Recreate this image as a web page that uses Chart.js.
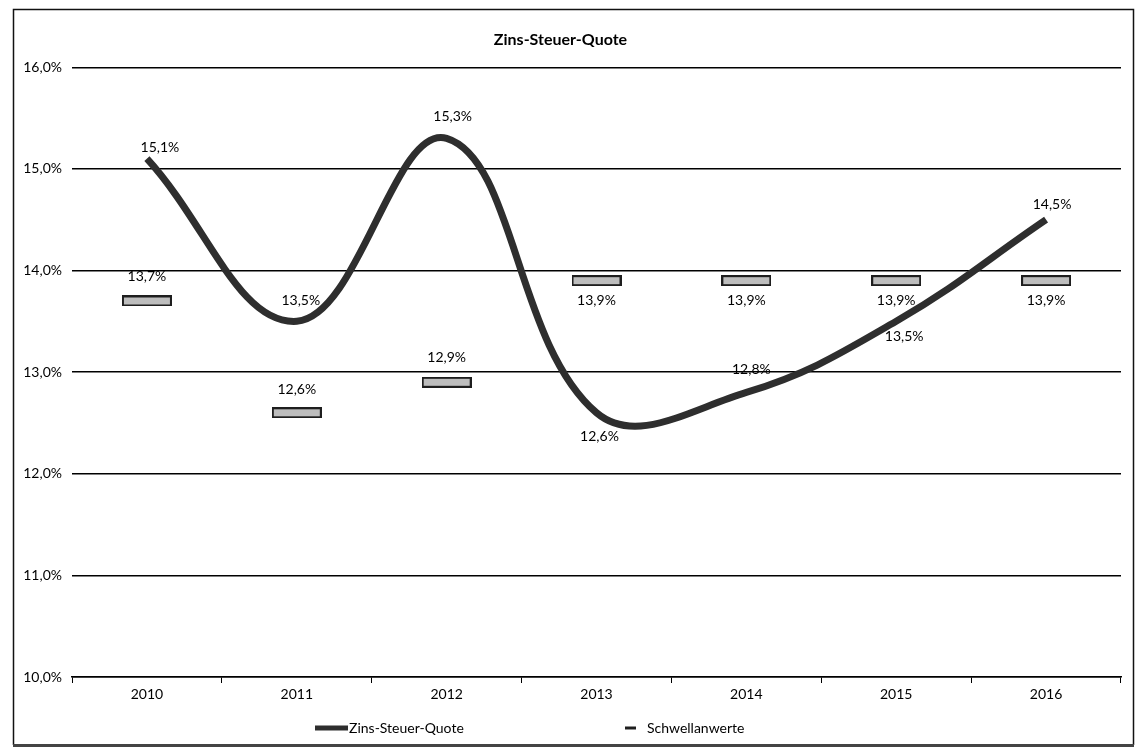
<!DOCTYPE html>
<html>
<head>
<meta charset="utf-8">
<title>Zins-Steuer-Quote</title>
<script src="https://cdn.jsdelivr.net/npm/chart.js@4.4.1/dist/chart.umd.min.js"></script>
<style>
  html, body { margin: 0; padding: 0; background: #fff; }
  #wrap { position: relative; width: 1137px; height: 751px; }
</style>
</head>
<body>
<div id="wrap"><canvas id="chart" width="1137" height="751"></canvas></div>
<script>
// Jahre (Kategorien)
const years = ['2010', '2011', '2012', '2013', '2014', '2015', '2016'];
// Zins-Steuer-Quote in %
const zinsSteuerQuote = [15.1, 13.5, 15.3, 12.6, 12.8, 13.5, 14.5];
// Schwellenwerte in %
const schwellenwerte = [13.7, 12.6, 12.9, 13.9, 13.9, 13.9, 13.9];
// Achsenbereich der y-Achse in %
const yMin = 10, yMax = 16, yStep = 1;

// Beschriftungs-Versatz je Punkt [dx, dy] in px
const quoteLabelOffset = [[13, -11], [4, -21], [6, -22], [3, 24], [5, -23], [8, 15], [6, -15]];
const schwelleLabelOffset = [[0, -24], [0, -23], [0, -25], [0, 20], [0, 20], [0, 20], [0, 20]];

const FONT = 'Lato, "Open Sans", sans-serif';
const fmtPct = v => v.toFixed(1).replace('.', ',') + '%';

// Balkenmarke fuer die Schwellenwerte
function makeMarker() {
  const c = document.createElement('canvas');
  c.width = 50; c.height = 11;
  const g = c.getContext('2d');
  g.fillStyle = '#1e1e1e';
  g.fillRect(0, 0, 50, 11);
  g.fillStyle = '#bdbdbd';
  g.fillRect(2, 2, 46, 7);
  return c;
}

// weisser Hintergrund und Rahmen
const framePlugin = {
  id: 'frame',
  beforeDraw(chart) {
    const ctx = chart.ctx;
    ctx.save();
    ctx.fillStyle = '#fff';
    ctx.fillRect(0, 0, chart.width, chart.height);
    ctx.restore();
  },
  afterDraw(chart) {
    const ctx = chart.ctx;
    ctx.save();
    ctx.strokeStyle = '#111';
    ctx.lineWidth = 1.5;
    ctx.beginPath();
    ctx.moveTo(13.5, 745);
    ctx.lineTo(13.5, 9.5);
    ctx.lineTo(1133.5, 9.5);
    ctx.lineTo(1133.5, 745);
    ctx.stroke();
    ctx.strokeStyle = '#444';
    ctx.lineWidth = 3;
    ctx.beginPath();
    ctx.moveTo(13, 745.5);
    ctx.lineTo(1134, 745.5);
    ctx.stroke();
    ctx.restore();
  }
};

// Werte an den Punkten
const valueLabelPlugin = {
  id: 'valueLabels',
  afterDatasetsDraw(chart) {
    const ctx = chart.ctx;
    ctx.save();
    ctx.font = '14px ' + FONT;
    ctx.fillStyle = '#000';
    ctx.textAlign = 'center';
    ctx.textBaseline = 'middle';
    chart.data.datasets.forEach((ds, di) => {
      const meta = chart.getDatasetMeta(di);
      const offs = ds.labelOffsets;
      meta.data.forEach((pt, i) => {
        const [dx, dy] = offs[i];
        ctx.fillText(fmtPct(ds.data[i]), pt.x + dx, pt.y + dy);
      });
    });
    ctx.restore();
  }
};

// Legende unter der Achse
const legendPlugin = {
  id: 'bottomLegend',
  afterDraw(chart) {
    const ctx = chart.ctx;
    const dsLine = chart.data.datasets[0];
    const dsMark = chart.data.datasets[1];
    const y = 728;
    ctx.save();
    ctx.lineCap = 'butt';
    ctx.strokeStyle = dsLine.borderColor;
    ctx.lineWidth = 5;
    ctx.beginPath(); ctx.moveTo(315, y); ctx.lineTo(348, y); ctx.stroke();
    ctx.strokeStyle = '#1e1e1e';
    ctx.lineWidth = 3;
    ctx.beginPath(); ctx.moveTo(625, y); ctx.lineTo(636, y); ctx.stroke();
    ctx.font = '14px ' + FONT;
    ctx.fillStyle = '#000';
    ctx.textAlign = 'left';
    ctx.textBaseline = 'middle';
    ctx.fillText(dsLine.label, 349, y);
    ctx.fillText(dsMark.label, 647, y);
    ctx.restore();
  }
};

new Chart(document.getElementById('chart'), {
  type: 'line',
  data: {
    labels: years,
    datasets: [
      {
        label: 'Zins-Steuer-Quote',
        data: zinsSteuerQuote,
        borderColor: '#2e2e2e',
        borderWidth: 7,
        tension: 0.4,
        pointRadius: 0,
        fill: false,
        clip: false,
        labelOffsets: quoteLabelOffset
      },
      {
        label: 'Schwellanwerte',
        data: schwellenwerte,
        showLine: false,
        pointStyle: makeMarker(),
        pointRadius: 4,
        clip: false,
        labelOffsets: schwelleLabelOffset
      }
    ]
  },
  options: {
    responsive: false,
    animation: false,
    devicePixelRatio: 1,
    layout: { padding: { left: 0, right: 16, top: 0, bottom: 0 } },
    plugins: {
      legend: { display: false },
      tooltip: { enabled: false },
      title: {
        display: true,
        text: 'Zins-Steuer-Quote',
        color: '#000',
        font: { family: FONT, size: 16, weight: 'bold' },
        padding: { top: 30, bottom: 18 }
      }
    },
    scales: {
      x: {
        offset: true,
        grid: { offset: true, drawOnChartArea: false, drawTicks: true, tickLength: 6, color: '#000', lineWidth: 1 },
        border: { display: true, color: '#000', width: 1.5 },
        ticks: { color: '#000', font: { family: FONT, size: 14 }, padding: 3, maxRotation: 0 },
        afterFit(scale) { scale.height = 74; }
      },
      y: {
        min: yMin,
        max: yMax,
        ticks: {
          stepSize: yStep,
          color: '#000',
          font: { family: FONT, size: 14 },
          padding: 10,
          callback: v => fmtPct(v)
        },
        grid: { color: '#000', lineWidth: 1.4, drawTicks: false },
        border: { display: false },
        afterFit(scale) { scale.width = 72; }
      }
    }
  },
  plugins: [framePlugin, valueLabelPlugin, legendPlugin]
});
</script>
</body>
</html>
